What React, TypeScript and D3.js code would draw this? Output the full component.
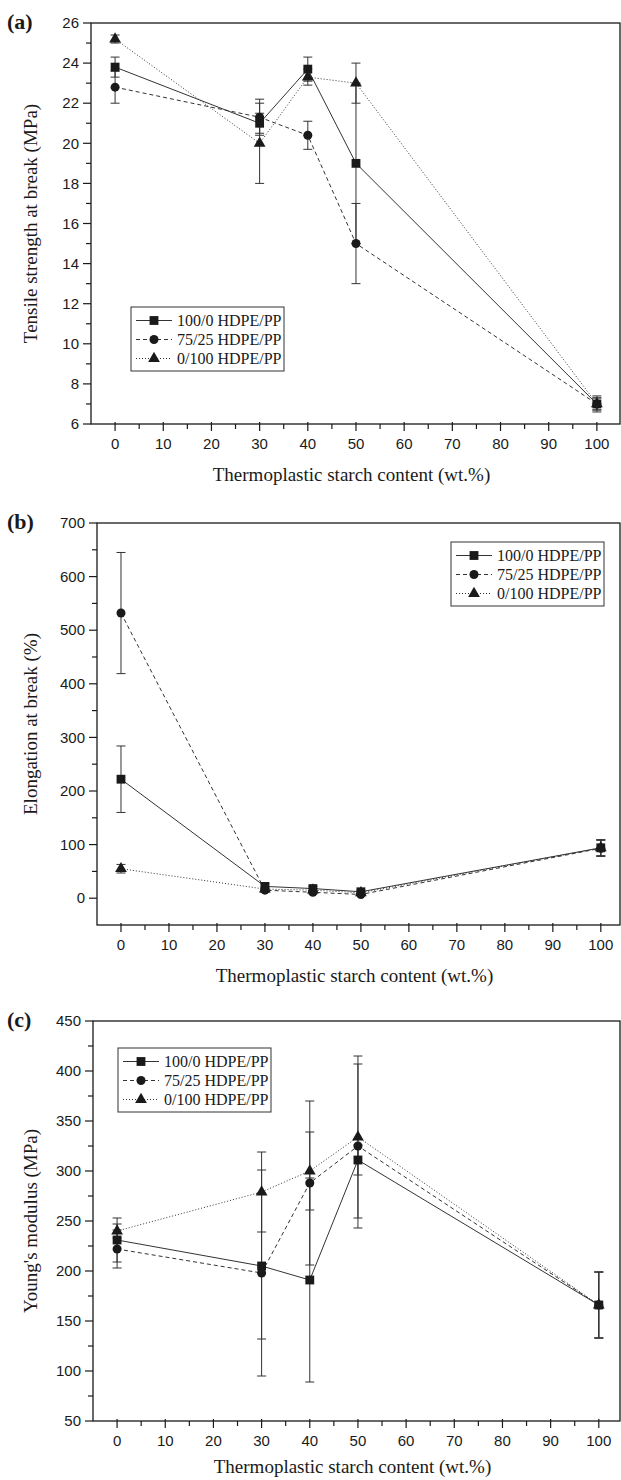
import * as d3 from 'd3';

// x positions (thermoplastic starch content, wt.%)
const tpsContent = [0, 30, 40, 50, 100];
const seriesNames = ['100/0 HDPE/PP', '75/25 HDPE/PP', '0/100 HDPE/PP'];

// (a) tensile strength at break, MPa
const tensile100 = [23.8, 21.0, 23.7, 19.0, 7.0];
const tensile100Err = [0.5, 0.5, 0.6, 4.0, 0.4];
const tensile75 = [22.8, 21.3, 20.4, 15.0, 7.0];
const tensile75Err = [0.8, 0.9, 0.7, 2.0, 0.3];
const tensile0 = [25.2, 20.0, 23.3, 23.0, 7.0];
const tensile0Err = [0.2, 2.0, 0.4, 1.0, 0.3];

// (b) elongation at break, %
const elong100 = [222, 22, 18, 12, 94];
const elong100Err = [62, 5, 4, 3, 15];
const elong75 = [532, 15, 11, 7, 93];
const elong75Err = [113, 4, 3, 2, 15];
const elong0 = [55, 17, 15, 10, 94];
const elong0Err = [8, 4, 3, 2, 15];

// (c) Young's modulus, MPa
const young100 = [231, 205, 191, 311, 166];
const young100Err = [22, 73, 102, 15, 33];
const young75 = [222, 198, 288, 325, 166];
const young75Err = [19, 103, 82, 82, 33];
const young0 = [240, 279, 300, 334, 166];
const young0Err = [7, 40, 39, 81, 33];

const xTicks = [0, 10, 20, 30, 40, 50, 60, 70, 80, 90, 100];
const xMinor = [5, 15, 25, 35, 45, 55, 65, 75, 85, 95];

const dashes = [null, '4,3', '1,2'];
const symbols = [d3.symbolSquare, d3.symbolCircle, d3.symbolTriangle];
const symSizes = [78, 64, 60];
const ink = '#1a1a1a';
const sans = '"Liberation Sans", Arial, sans-serif';
const serif = '"Liberation Serif", "Times New Roman", serif';

const Panel = ({ tag, yTitle, xDom, xRange, yDom, yRange, yMajor, yMinor, series, errs, legend, titleGap = 50 }) => {
  const x = d3.scaleLinear().domain(xDom).range(xRange);
  const y = d3.scaleLinear().domain(yDom).range(yRange);
  const [left, right] = xRange;
  const [bottom, top] = yRange;
  const line = d3.line().x((d, i) => x(tpsContent[i])).y(d => y(d));
  const start = Math.ceil(yDom[0] / yMajor) * yMajor;
  const yMaj = d3.range(start, yDom[1] + 0.001, yMajor);
  const yMin = d3.range(yDom[0], yDom[1] + 0.001, yMinor).filter(v => !yMaj.includes(v) && v > yDom[0]);
  const midY = (top + bottom) / 2;
  return (
    <g>
      <text x={7} y={top + 6} fontFamily={serif} fontWeight="bold" fontSize={22} fill={ink}>{tag}</text>
      {/* frame */}
      <rect x={left} y={top} width={right - left} height={bottom - top} fill="none" stroke={ink} strokeWidth={1.3} />
      {/* y ticks */}
      {yMaj.map(v => (
        <g key={'ym' + v}>
          <line x1={left - 8} x2={left} y1={y(v)} y2={y(v)} stroke={ink} strokeWidth={1.2} />
          <text x={left - 12} y={y(v)} dy="0.35em" textAnchor="end" fontFamily={sans} fontSize={15} fill={ink}>{v}</text>
        </g>
      ))}
      {yMin.map(v => (
        <line key={'yn' + v} x1={left - 5} x2={left} y1={y(v)} y2={y(v)} stroke={ink} strokeWidth={1.2} />
      ))}
      {/* x ticks */}
      {xTicks.map(v => (
        <g key={'xm' + v}>
          <line x1={x(v)} x2={x(v)} y1={bottom - 2} y2={bottom + 7} stroke={ink} strokeWidth={1.2} />
          <text x={x(v)} y={bottom + 20} dy="0.35em" textAnchor="middle" fontFamily={sans} fontSize={15} fill={ink}>{v}</text>
        </g>
      ))}
      {xMinor.map(v => (
        <line key={'xn' + v} x1={x(v)} x2={x(v)} y1={bottom} y2={bottom + 5} stroke={ink} strokeWidth={1.2} />
      ))}
      <text x={(left + right) / 2 - 4} y={bottom + titleGap} dy="0.35em" textAnchor="middle" fontFamily={serif} fontSize={19} fill={ink}>
        Thermoplastic starch content (wt.%)
      </text>
      <text transform={`translate(30,${midY}) rotate(-90)`} dy="0.35em" textAnchor="middle" fontFamily={serif} fontSize={19} fill={ink}>
        {yTitle}
      </text>
      {/* lines */}
      {series.map((s, k) => (
        <path key={'l' + k} d={line(s)} fill="none" stroke="#333" strokeWidth={1} strokeDasharray={dashes[k] || undefined} />
      ))}
      {/* error bars */}
      {series.map((s, k) => s.map((v, i) => {
        const cx = x(tpsContent[i]);
        const y1 = y(v + errs[k][i]);
        const y2 = y(v - errs[k][i]);
        return (
          <g key={'e' + k + '-' + i} stroke="#333" strokeWidth={1}>
            <line x1={cx} x2={cx} y1={y1} y2={y2} />
            <line x1={cx - 4.5} x2={cx + 4.5} y1={y1} y2={y1} />
            <line x1={cx - 4.5} x2={cx + 4.5} y1={y2} y2={y2} />
          </g>
        );
      }))}
      {/* markers */}
      {series.map((s, k) => s.map((v, i) => (
        <path key={'m' + k + '-' + i} transform={`translate(${x(tpsContent[i])},${y(v)})`}
          d={d3.symbol().type(symbols[k]).size(symSizes[k])()} fill={ink} />
      )))}
      {/* legend */}
      <g transform={`translate(${legend[0]},${legend[1]})`}>
        <rect x={0} y={0} width={153} height={64} fill="white" stroke="#333" strokeWidth={1} />
        {seriesNames.map((n, k) => (
          <g key={n} transform={`translate(0,${13.5 + k * 19})`}>
            <line x1={5} x2={41} y1={0} y2={0} stroke="#333" strokeWidth={1} strokeDasharray={dashes[k] || undefined} />
            <path transform="translate(23,0)" d={d3.symbol().type(symbols[k]).size(symSizes[k])()} fill={ink} />
            <text x={46} y={0} dy="0.35em" fontFamily={serif} fontSize={16} fill={ink}>{n}</text>
          </g>
        ))}
      </g>
    </g>
  );
};

export default function App() {
  return (
    <svg width={621} height={1480} style={{ position: 'absolute', left: 0, top: 0, background: 'white' }}>
      <Panel tag="(a)" yTitle="Tensile strength at break (MPa)"
        xDom={[-5, 104.8]} xRange={[91, 620]} yDom={[6, 26]} yRange={[424, 23]} yMajor={2} yMinor={1}
        series={[tensile100, tensile75, tensile0]} errs={[tensile100Err, tensile75Err, tensile0Err]}
        legend={[131, 307]} />
      <Panel tag="(b)" yTitle="Elongation at break (%)"
        xDom={[-5, 104]} xRange={[97, 620]} yDom={[-50, 700]} yRange={[925, 523]} yMajor={100} yMinor={50}
        series={[elong100, elong75, elong0]} errs={[elong100Err, elong75Err, elong0Err]}
        legend={[451, 542]} />
      <Panel tag="(c)" yTitle="Young's modulus (MPa)"
        xDom={[-5, 104.4]} xRange={[93, 620]} yDom={[50, 450]} yRange={[1421, 1021]} yMajor={50} yMinor={25}
        series={[young100, young75, young0]} errs={[young100Err, young75Err, young0Err]}
        legend={[118, 1048]} titleGap={45} />
    </svg>
  );
}
